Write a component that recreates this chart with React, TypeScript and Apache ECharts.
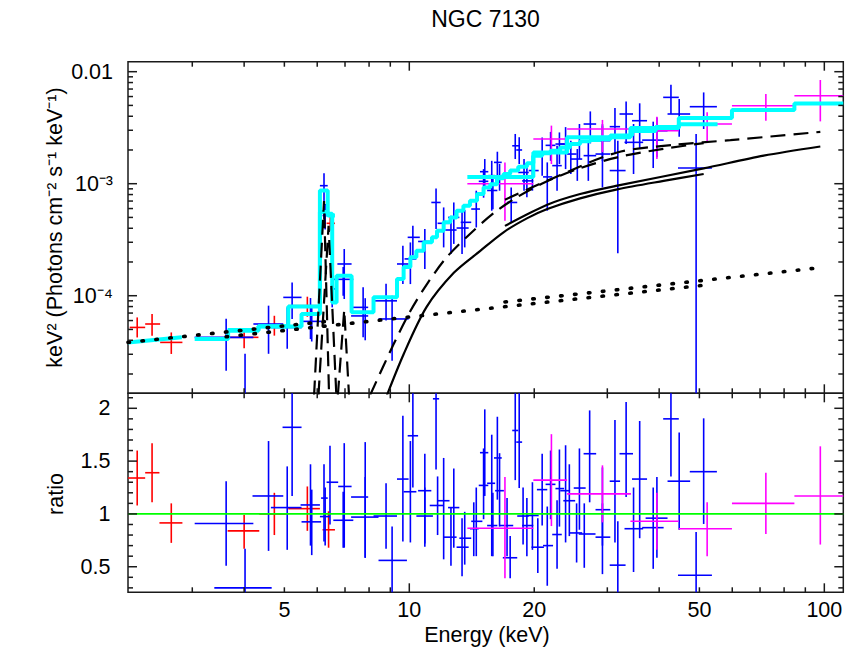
import React, { useEffect, useRef } from "react";
import * as echarts from "echarts";

const FONT = '"Liberation Sans", Arial, Helvetica, sans-serif';

// ---------- axis ranges and ticks ----------
const energyRange = [2.1, 111.1];
const fluxRange = [1.345e-5, 0.01228];
const ratioRange = [0.258, 2.142];

const energyMajorTicks = [10, 100];
const energyMinorTicks = [3, 4, 5, 6, 7, 8, 9, 20, 30, 40, 50, 60, 70, 80, 90];
const energyTickLabels = [5, 10, 20, 50, 100];
const fluxMajorTicks = [1e-4, 1e-3, 1e-2];
const fluxMinorTicks = [
  2e-5, 3e-5, 4e-5, 5e-5, 6e-5, 7e-5, 8e-5, 9e-5,
  2e-4, 3e-4, 4e-4, 5e-4, 6e-4, 7e-4, 8e-4, 9e-4,
  2e-3, 3e-3, 4e-3, 5e-3, 6e-3, 7e-3, 8e-3, 9e-3,
];
const fluxTickValues = [1e-2, 1e-3, 1e-4];
const fluxTickTexts = ["0.01", "10⁻³", "10⁻⁴"];
const ratioMajorTicks = [0.5, 1, 1.5, 2];
const ratioMinorTicks = [0.3, 0.4, 0.6, 0.7, 0.8, 0.9, 1.1, 1.2, 1.3, 1.4, 1.6, 1.7, 1.8, 1.9, 2.1];
const ratioTickValues = [0.5, 1, 1.5, 2];
const ratioTickTexts = ["0.5", "1", "1.5", "2"];

// ---------- spectra: [E, Elo, Ehi, value, lo, hi] ----------
const xmmSpec = [
  [2.21, 2.12, 2.31, 5.21e-5, 4.24e-5, 6.4e-5],
  [2.4, 2.31, 2.51, 5.59e-5, 4.4e-5, 6.87e-5],
  [2.67, 2.51, 2.84, 3.83e-5, 3.02e-5, 4.7e-5],
  [4.0, 3.65, 4.33, 4.25e-5, 3.4e-5, 5.0e-5],
  [4.73, 4.33, 5.11, 5.4e-5, 4.4e-5, 6.62e-5],
  [5.68, 5.11, 6.09, 8.15e-5, 6.49e-5, 9.8e-5],
  [6.45, 6.32, 6.62, 4.43e-4, 3.8e-4, 5.4e-4],
];

const nustarSpec = [
  [3.62, 3.04, 4.21, 4.25e-5, 2.14e-5, 6.24e-5],
  [4.02, 3.39, 4.66, 1.25e-5, 5.0e-6, 3.04e-5],
  [4.58, 4.21, 4.97, 5.59e-5, 3.03e-5, 8.15e-5],
  [5.08, 4.64, 5.5, 5.2e-5, 3.36e-5, 7.87e-5],
  [5.22, 4.97, 5.5, 9.66e-5, 6.19e-5, 1.31e-4],
  [5.78, 5.47, 6.09, 6.87e-5, 4.1e-5, 9.53e-5],
  [5.82, 5.5, 6.13, 5.9e-5, 3.9e-5, 8.2e-5],
  [6.23, 6.09, 6.36, 9.6e-4, 4.84e-4, 1.24e-3],
  [6.27, 6.18, 6.36, 5.2e-4, 3.9e-4, 6.6e-4],
  [6.52, 6.44, 6.71, 1.15e-4, 7.87e-5, 1.42e-4],
  [6.97, 6.71, 7.26, 1.92e-4, 9.35e-5, 2.61e-4],
  [6.93, 6.56, 7.33, 1.4e-4, 1.0e-4, 1.8e-4],
  [7.74, 7.28, 7.96, 7.87e-5, 4.25e-5, 1.19e-4],
  [7.83, 7.24, 7.96, 6.6e-5, 4.0e-5, 9.5e-5],
  [8.79, 8.2, 9.34, 9.0e-5, 6.0e-5, 1.28e-4],
  [9.09, 8.43, 9.96, 6.2e-5, 2.63e-5, 1.0e-4],
  [9.65, 9.34, 9.96, 1.92e-4, 1.27e-4, 2.79e-4],
  [10.06, 9.74, 10.4, 2.13e-4, 1.27e-4, 2.99e-4],
  [10.2, 9.91, 10.6, 3.32e-4, 2.28e-4, 4.22e-4],
  [10.9, 10.5, 11.2, 3.05e-4, 1.73e-4, 3.94e-4],
  [11.6, 11.3, 11.9, 6.8e-4, 3.94e-4, 9.08e-4],
  [12.1, 11.7, 12.5, 4.43e-4, 2.7e-4, 6.14e-4],
  [12.6, 12.2, 13.0, 3.86e-4, 2.36e-4, 5.18e-4],
  [12.8, 12.4, 13.2, 5.0e-4, 2.9e-4, 6.8e-4],
  [13.4, 13.0, 13.9, 4.02e-4, 2.36e-4, 5.74e-4],
  [13.6, 13.3, 14.1, 4.52e-4, 2.7e-4, 5.82e-4],
  [14.5, 14.1, 14.8, 5.94e-4, 4.07e-4, 8.66e-4],
  [15.2, 14.8, 15.5, 1.28e-3, 9.27e-4, 1.66e-3],
  [15.1, 14.7, 15.5, 1.05e-3, 7.5e-4, 1.35e-3],
  [15.8, 15.5, 16.1, 1.18e-3, 5.74e-4, 1.6e-3],
  [15.9, 15.4, 16.3, 8.7e-4, 5.9e-4, 1.15e-3],
  [16.3, 16.0, 16.7, 1.55e-3, 1.1e-3, 1.93e-3],
  [16.5, 16.1, 16.9, 1.15e-3, 8.66e-4, 1.5e-3],
  [17.6, 17.2, 18.2, 6.8e-4, 4.52e-4, 9.27e-4],
  [18.0, 17.7, 18.4, 2.18e-3, 1.66e-3, 2.78e-3],
  [18.4, 18.1, 18.7, 2.0e-3, 1.5e-3, 2.6e-3],
  [18.9, 18.3, 19.4, 1.26e-3, 8.66e-4, 1.66e-3],
  [19.2, 18.7, 19.9, 1.06e-3, 7.55e-4, 1.45e-3],
  [19.8, 19.4, 20.5, 1.31e-3, 8.66e-4, 1.78e-3],
  [20.9, 20.3, 21.5, 1.87e-3, 1.18e-3, 2.59e-3],
  [21.5, 21.0, 22.1, 1.15e-3, 5.74e-4, 1.55e-3],
  [21.9, 21.3, 22.5, 2.2e-3, 1.6e-3, 2.9e-3],
  [22.7, 22.1, 23.3, 1.45e-3, 8.66e-4, 2.18e-3],
  [23.0, 22.5, 23.6, 2.26e-3, 1.5e-3, 2.87e-3],
  [23.8, 23.1, 24.4, 2.26e-3, 1.35e-3, 3.2e-3],
  [24.5, 24.0, 25.3, 1.84e-3, 1.22e-3, 2.42e-3],
  [25.7, 24.9, 26.6, 2.59e-3, 1.66e-3, 3.41e-3],
  [25.4, 24.4, 26.1, 1.66e-3, 1.06e-3, 2.04e-3],
  [27.3, 26.3, 28.2, 3.41e-3, 2.29e-3, 4.42e-3],
  [27.0, 26.3, 28.2, 1.78e-3, 1.06e-3, 2.42e-3],
  [29.2, 28.1, 30.5, 1.84e-3, 9.27e-4, 3.41e-3],
  [29.2, 28.1, 30.5, 2.42e-3, 1.6e-3, 3.3e-3],
  [31.3, 30.4, 32.2, 3.23e-3, 1.84e-3, 4.74e-3],
  [31.8, 30.4, 33.2, 1.31e-3, 2.39e-4, 2.42e-3],
  [33.3, 32.1, 34.6, 4.19e-3, 2.26e-3, 5.43e-3],
  [34.7, 33.0, 36.6, 2.34e-3, 1.22e-3, 3.41e-3],
  [35.9, 34.4, 37.4, 3.65e-3, 2.08e-3, 5.22e-3],
  [38.7, 36.4, 41.0, 2.45e-3, 1.38e-3, 3.58e-3],
  [39.5, 37.1, 41.9, 2.97e-3, 1.72e-3, 3.9e-3],
  [42.7, 40.9, 44.6, 5.9e-3, 4.19e-3, 7.66e-3],
  [44.7, 41.9, 47.5, 4.19e-3, 2.63e-3, 5.7e-3],
  [51.2, 47.4, 55.1, 4.87e-3, 3.08e-3, 6.53e-3],
  [49.1, 44.4, 53.6, 1.38e-3, 1.0e-6, 2.78e-3],
];

const batSpec = [
  [17.0, 13.8, 19.9, 1.0e-3, 4.67e-4, 1.55e-3],
  [22.0, 19.9, 24.0, 2.51e-3, 1.5e-3, 3.3e-3],
  [29.2, 24.0, 34.2, 3.08e-3, 1.91e-3, 3.71e-3],
  [39.5, 34.1, 44.6, 2.97e-3, 1.66e-3, 3.96e-3],
  [52.2, 44.6, 59.9, 3.41e-3, 2.39e-3, 4.34e-3],
  [72.3, 59.9, 84.7, 4.97e-3, 3.65e-3, 6.33e-3],
  [97.8, 84.7, 111.1, 6.1e-3, 3.6e-3, 8.43e-3],
];

// ---------- ratios: [E, Elo, Ehi, ratio, lo, hi] ----------
const xmmRatio = [
  [2.21, 2.1, 2.31, 1.34, 1.08, 1.6],
  [2.4, 2.31, 2.5, 1.39, 1.11, 1.67],
  [2.67, 2.5, 2.84, 0.915, 0.726, 1.1],
  [4.0, 3.65, 4.35, 0.84, 0.67, 0.99],
  [4.73, 4.35, 5.11, 1.0, 0.8, 1.2],
  [5.68, 5.11, 6.09, 1.05, 0.84, 1.26],
  [6.39, 6.18, 6.62, 0.85, 0.68, 1.025],
];

const nustarRatio = [
  [3.62, 3.04, 4.21, 0.91, 0.51, 1.31],
  [4.02, 3.39, 4.66, 0.3, 0.2, 0.67],
  [4.58, 4.19, 4.97, 1.17, 0.65, 1.69],
  [5.08, 4.64, 5.5, 1.06, 0.66, 1.45],
  [5.22, 4.95, 5.5, 1.82, 1.17, 2.3],
  [5.78, 5.47, 6.09, 1.085, 0.7, 1.47],
  [5.82, 5.5, 6.13, 0.925, 0.61, 1.23],
  [6.23, 6.13, 6.36, 1.15, 0.74, 1.47],
  [6.27, 6.09, 6.44, 0.975, 0.7, 1.25],
  [6.44, 6.32, 6.74, 1.3, 0.9, 1.645],
  [6.97, 6.74, 7.26, 1.26, 0.68, 1.67],
  [6.93, 6.56, 7.33, 0.94, 0.68, 1.21],
  [7.83, 7.24, 7.96, 1.16, 0.585, 1.68],
  [7.83, 7.24, 8.43, 0.97, 0.585, 1.35],
  [8.79, 8.2, 9.34, 0.98, 0.67, 1.29],
  [9.09, 8.43, 9.87, 0.56, 0.25, 0.88],
  [9.65, 9.34, 9.96, 1.33, 0.74, 1.93],
  [10.06, 9.69, 10.4, 1.21, 0.73, 1.69],
  [10.2, 9.91, 10.5, 1.74, 1.25, 2.3],
  [10.9, 10.5, 11.3, 1.22, 0.69, 1.57],
  [10.9, 10.4, 11.4, 0.98, 0.72, 1.25],
  [11.6, 11.4, 11.8, 2.09, 1.42, 2.6],
  [11.7, 11.2, 12.1, 1.08, 0.8, 1.355],
  [12.1, 11.7, 12.5, 1.125, 0.57, 1.53],
  [12.8, 12.4, 13.2, 1.06, 0.68, 1.43],
  [12.6, 12.1, 13.0, 0.78, 0.51, 1.06],
  [13.4, 13.0, 13.9, 0.685, 0.41, 0.96],
  [13.6, 13.2, 14.1, 0.77, 0.52, 1.02],
  [14.5, 14.1, 15.0, 0.93, 0.6, 1.25],
  [14.3, 14.0, 14.7, 0.86, 0.6, 1.11],
  [15.2, 14.8, 15.5, 1.58, 1.17, 1.99],
  [15.1, 14.7, 15.5, 1.27, 0.95, 1.62],
  [15.8, 15.4, 16.1, 1.29, 0.6, 1.75],
  [15.9, 15.4, 16.3, 0.89, 0.6, 1.2],
  [16.3, 16.0, 16.7, 1.53, 1.135, 1.92],
  [16.5, 16.1, 16.9, 1.22, 0.88, 1.575],
  [17.2, 16.5, 17.8, 0.89, 0.6, 1.15],
  [17.5, 16.8, 18.2, 0.585, 0.39, 0.79],
  [18.0, 17.7, 18.3, 1.79, 1.32, 2.3],
  [18.4, 18.1, 18.7, 1.68, 1.245, 2.3],
  [18.8, 18.2, 19.4, 0.98, 0.71, 1.25],
  [19.2, 18.7, 19.9, 0.89, 0.6, 1.15],
  [19.8, 19.2, 20.5, 0.985, 0.66, 1.3],
  [20.4, 19.7, 21.1, 0.685, 0.44, 0.96],
  [20.9, 20.3, 21.5, 1.23, 0.89, 1.57],
  [21.5, 21.0, 22.2, 0.7, 0.32, 1.07],
  [21.9, 21.3, 22.5, 1.28, 0.95, 1.6],
  [22.7, 22.1, 23.3, 0.805, 0.48, 1.13],
  [23.0, 22.5, 23.6, 1.24, 0.88, 1.61],
  [23.8, 23.1, 24.4, 1.22, 0.73, 1.65],
  [24.3, 23.5, 25.1, 1.125, 0.79, 1.47],
  [25.7, 24.9, 26.6, 1.245, 0.85, 1.62],
  [25.3, 24.3, 26.1, 0.82, 0.54, 1.1],
  [26.4, 25.6, 28.1, 0.81, 0.49, 1.1],
  [27.2, 26.3, 28.2, 1.57, 1.11, 1.98],
  [29.2, 28.1, 30.5, 1.04, 0.7, 1.44],
  [29.2, 28.1, 30.5, 0.78, 0.43, 1.1],
  [31.8, 30.4, 33.2, 0.515, 0.25, 0.93],
  [31.3, 30.4, 32.2, 1.31, 0.73, 1.89],
  [33.3, 32.1, 34.6, 1.57, 1.16, 2.06],
  [34.7, 33.0, 36.6, 0.86, 0.45, 1.25],
  [35.9, 34.4, 37.4, 1.33, 0.77, 1.88],
  [38.7, 36.4, 41.0, 0.87, 0.48, 1.25],
  [39.5, 37.1, 41.9, 0.96, 0.585, 1.35],
  [42.7, 40.9, 44.6, 1.9, 1.355, 2.3],
  [44.7, 41.9, 47.5, 1.31, 0.85, 1.77],
  [51.2, 47.4, 55.1, 1.4, 0.905, 1.905],
  [49.1, 44.4, 53.6, 0.42, 0.2, 0.83],
];

const batRatio = [
  [17.0, 13.8, 19.9, 0.865, 0.39, 1.35],
  [22.0, 19.9, 24.0, 1.32, 0.885, 1.755],
  [29.2, 24.0, 34.2, 1.19, 0.92, 1.46],
  [39.5, 34.1, 44.6, 0.93, 0.66, 1.2],
  [52.2, 44.6, 59.9, 0.86, 0.6, 1.11],
  [72.3, 59.9, 84.7, 1.1, 0.81, 1.39],
  [97.8, 84.7, 111.1, 1.17, 0.71, 1.64],
];

// ---------- model curves ----------
const xmmModelCurve = [[2.1, 3.83e-5], [2.83, 4.25e-5]];
// [Elo, Ehi, value]
const xmmModelBins = [
  [3.65, 4.33, 4.95e-5], [4.33, 5.11, 5.35e-5], [5.11, 6.09, 8.0e-5],
  [6.09, 6.36, 5.6e-4], [6.36, 6.62, 5.2e-4],
];
const nustarModelBins = [
  [3.04, 3.66, 4.1e-5], [3.66, 4.33, 4.87e-5], [4.33, 5.5, 5.3e-5], [5.5, 6.09, 6.87e-5],
  [6.09, 6.36, 8.7e-4], [6.36, 6.52, 5.4e-4], [6.52, 6.68, 8.7e-5], [6.68, 7.26, 1.51e-4],
  [7.26, 8.2, 7.1e-5], [8.2, 9.34, 9.7e-5], [9.34, 9.69, 1.41e-4], [9.69, 10.06, 1.8e-4],
  [10.06, 10.4, 2.2e-4], [10.4, 10.83, 2.52e-4], [10.83, 11.34, 3.0e-4], [11.34, 11.66, 3.32e-4],
  [11.66, 12.1, 3.8e-4], [12.1, 12.56, 4.52e-4], [12.56, 13.0, 5.0e-4], [13.0, 13.5, 5.74e-4],
  [13.5, 14.0, 6.36e-4], [14.0, 14.56, 7.05e-4], [14.56, 15.1, 8.1e-4], [15.1, 15.67, 9.27e-4],
  [15.67, 16.27, 9.9e-4], [16.27, 16.87, 1.12e-3], [16.87, 17.5, 1.22e-3], [17.5, 18.3, 1.31e-3],
  [18.3, 19.2, 1.42e-3], [19.2, 19.9, 1.52e-3], [19.9, 20.9, 1.78e-3], [20.9, 21.9, 1.87e-3],
  [21.9, 23.1, 1.97e-3], [23.1, 24.4, 2.11e-3], [24.4, 25.8, 2.26e-3], [25.8, 27.3, 2.39e-3],
  [27.3, 28.8, 2.45e-3], [28.8, 30.5, 2.5e-3], [30.5, 34.4, 2.7e-3], [34.4, 39.2, 2.95e-3],
  [39.2, 44.6, 3.2e-3], [44.6, 55.3, 3.4e-3],
];
const batModelBins = [
  [13.8, 19.9, 1.15e-3], [19.9, 24.0, 1.9e-3], [24.0, 34.1, 2.6e-3], [34.1, 44.6, 3.15e-3],
  [44.6, 59.9, 3.86e-3], [59.9, 84.7, 4.55e-3], [84.7, 111.1, 5.2e-3],
];

const powerlawXmm = [[2.1, 3.83e-5], [6.45, 5.95e-5]];
const powerlawNustar = [[3.62, 4.3e-5], [51.2, 1.24e-4]];
const powerlawBat = [[17.0, 8.8e-5], [97.8, 1.78e-4]];

const transmittedNustar = [
  [8.6, 1.0e-5], [9.69, 3.0e-5], [11.0, 7.9e-5], [12.8, 1.6e-4], [14.8, 2.5e-4], [16.9, 3.7e-4],
  [19.2, 4.9e-4], [21.5, 5.94e-4], [25.8, 7.4e-4], [31.7, 8.9e-4], [41.0, 1.06e-3], [51.2, 1.22e-3],
];
const transmittedBat = [
  [17.0, 4.2e-4], [21.5, 6.49e-4], [25.8, 8.09e-4], [31.7, 9.6e-4], [51.2, 1.37e-3],
  [71.4, 1.78e-3], [97.8, 2.15e-3],
];

const reflectionNustar = [
  [8.05, 1.3e-5], [9.17, 3.7e-5], [10.06, 7.3e-5], [11.03, 1.27e-4], [12.3, 2.2e-4], [14.0, 3.56e-4],
  [16.0, 5.5e-4], [18.2, 7.6e-4], [21.1, 1.02e-3], [25.4, 1.35e-3], [31.7, 1.72e-3], [41.0, 2.05e-3],
  [51.2, 2.3e-3],
];
const reflectionBat = [
  [17.0, 7.2e-4], [22.2, 1.12e-3], [31.7, 1.9e-3], [43.4, 2.22e-3], [59.4, 2.45e-3], [97.8, 2.9e-3],
];

const feKalphaNustar = [[5.82, 5e-6], [6.23, 7.0e-4], [6.45, 5e-6]];
const feKalphaXmm = [[5.95, 5e-6], [6.39, 4.2e-4], [6.75, 5e-6]];
const feKbetaNustar = [[6.6, 5e-6], [6.97, 7.5e-5], [7.26, 5e-6]];

const ratioUnity = [[2.1, 1], [111.1, 1]];

// ---------- helpers ----------
function stepPoints(bins: number[][]) {
  const pts: number[][] = [];
  bins.forEach(([lo, hi, v]) => {
    pts.push([lo, v]);
    pts.push([hi, v]);
  });
  return pts;
}

function crossSeries(data: number[][], color: string, gi: number) {
  return {
    type: "custom",
    xAxisIndex: gi,
    yAxisIndex: gi,
    silent: true,
    encode: { x: 0, y: 3 },
    data,
    renderItem: (params: any, api: any) => {
      const cs = params.coordSys;
      const x0 = cs.x, x1 = cs.x + cs.width, y0 = cs.y, y1 = cs.y + cs.height;
      const e = api.value(0), elo = api.value(1), ehi = api.value(2);
      const v = api.value(3), vlo = api.value(4), vhi = api.value(5);
      const c = api.coord([e, v]);
      const l = api.coord([elo, v]);
      const h = api.coord([ehi, v]);
      const b = api.coord([e, vlo]);
      const t = api.coord([e, vhi]);
      const cx = (x: number) => Math.max(x0, Math.min(x1, x));
      const cy = (y: number) => Math.max(y0, Math.min(y1, y));
      const style = { stroke: color, lineWidth: 1.6 };
      const children: any[] = [];
      if (c[1] >= y0 && c[1] <= y1) {
        children.push({ type: "line", shape: { x1: cx(l[0]), y1: c[1], x2: cx(h[0]), y2: c[1] }, style });
      }
      const ya = cy(t[1]), yb = cy(b[1]);
      if (yb > ya && c[0] >= x0 && c[0] <= x1) {
        children.push({ type: "line", shape: { x1: c[0], y1: ya, x2: c[0], y2: yb }, style });
      }
      return { type: "group", children };
    },
  };
}

function lineSeries(data: number[][], gi: number, lineStyle: any, smooth = false) {
  return {
    type: "line",
    xAxisIndex: gi,
    yAxisIndex: gi,
    data,
    symbol: "none",
    showSymbol: false,
    silent: true,
    clip: true,
    smooth: smooth ? 0.3 : false,
    lineStyle,
  };
}

const TICK_STYLE = { stroke: "#1a1a1a", lineWidth: 1.5 };

function xTickSeries(values: number[], gi: number, yRef: number, len: number) {
  return {
    type: "custom",
    xAxisIndex: gi,
    yAxisIndex: gi,
    silent: true,
    z: 10,
    data: values.map((v) => [v, yRef]),
    renderItem: (params: any, api: any) => {
      const cs = params.coordSys;
      const x = api.coord([api.value(0), api.value(1)])[0];
      return {
        type: "group",
        children: [
          { type: "line", shape: { x1: x, y1: cs.y, x2: x, y2: cs.y + len }, style: TICK_STYLE },
          { type: "line", shape: { x1: x, y1: cs.y + cs.height, x2: x, y2: cs.y + cs.height - len }, style: TICK_STYLE },
        ],
      };
    },
  };
}

function yTickSeries(values: number[], gi: number, xRef: number, len: number) {
  return {
    type: "custom",
    xAxisIndex: gi,
    yAxisIndex: gi,
    silent: true,
    z: 10,
    data: values.map((v) => [xRef, v]),
    renderItem: (params: any, api: any) => {
      const cs = params.coordSys;
      const y = api.coord([api.value(0), api.value(1)])[1];
      return {
        type: "group",
        children: [
          { type: "line", shape: { x1: cs.x, y1: y, x2: cs.x + len, y2: y }, style: TICK_STYLE },
          { type: "line", shape: { x1: cs.x + cs.width, y1: y, x2: cs.x + cs.width - len, y2: y }, style: TICK_STYLE },
        ],
      };
    },
  };
}

function textStyle(text: string, align: string, size: number) {
  return {
    text,
    fill: "#000",
    font: `${size}px ${FONT}`,
    textAlign: align,
    align,
    textVerticalAlign: "middle",
    verticalAlign: "middle",
  };
}

function xLabelSeries(values: number[], gi: number, yRef: number) {
  return {
    type: "custom",
    xAxisIndex: gi,
    yAxisIndex: gi,
    silent: true,
    z: 10,
    data: values.map((v) => [v, yRef]),
    renderItem: (params: any, api: any) => {
      const cs = params.coordSys;
      const x = api.coord([api.value(0), api.value(1)])[0];
      return { type: "text", x, y: cs.y + cs.height + 18, style: textStyle(String(values[params.dataIndex]), "center", 21.5) };
    },
  };
}

function yLabelSeries(values: number[], texts: string[], gi: number, xRef: number, offset: number) {
  return {
    type: "custom",
    xAxisIndex: gi,
    yAxisIndex: gi,
    silent: true,
    z: 10,
    data: values.map((v) => [xRef, v]),
    renderItem: (params: any, api: any) => {
      const cs = params.coordSys;
      const y = api.coord([api.value(0), api.value(1)])[1];
      return { type: "text", x: cs.x - offset, y, style: textStyle(texts[params.dataIndex], "right", 21.5) };
    },
  };
}

const hiddenAxis = {
  axisLine: { show: false },
  axisTick: { show: false },
  axisLabel: { show: false },
  splitLine: { show: false },
};

const CYAN = { color: "#00ffff", width: 4 };
const SOLID = { color: "#000", width: 2.2 };
const DASHED = { color: "#000", width: 2.2, type: [15, 8] };
const DOTTED = { color: "#000", width: 3.6, type: [1.5, 12.5], cap: "round" };

function buildOption() {
  return {
    animation: false,
    backgroundColor: "#fff",
    grid: [
      { left: 128, top: 61.7, width: 715.3, height: 331.6, show: true, borderColor: "#1a1a1a", borderWidth: 1.5, backgroundColor: "transparent" },
      { left: 128, top: 393.3, width: 715.3, height: 199, show: true, borderColor: "#1a1a1a", borderWidth: 1.5, backgroundColor: "transparent" },
    ],
    xAxis: [
      { gridIndex: 0, type: "log", logBase: 10, min: energyRange[0], max: energyRange[1], ...hiddenAxis },
      { gridIndex: 1, type: "log", logBase: 10, min: energyRange[0], max: energyRange[1], ...hiddenAxis },
    ],
    yAxis: [
      { gridIndex: 0, type: "log", logBase: 10, min: fluxRange[0], max: fluxRange[1], ...hiddenAxis },
      { gridIndex: 1, type: "value", min: ratioRange[0], max: ratioRange[1], ...hiddenAxis },
    ],
    graphic: [
      { type: "text", x: 485.5, y: 19, style: textStyle("NGC 7130", "center", 23) },
      { type: "text", x: 55, y: 227.5, rotation: Math.PI / 2, style: textStyle("keV² (Photons cm⁻² s⁻¹ keV⁻¹)", "center", 21.5) },
      { type: "text", x: 56, y: 494, rotation: Math.PI / 2, style: textStyle("ratio", "center", 21.5) },
      { type: "text", x: 487, y: 635, style: textStyle("Energy (keV)", "center", 21.5) },
    ],
    series: [
      // top panel data
      crossSeries(xmmSpec, "#ff0000", 0),
      crossSeries(nustarSpec, "#0000ff", 0),
      crossSeries(batSpec, "#ff00ff", 0),
      // total models
      lineSeries(xmmModelCurve, 0, CYAN),
      lineSeries(stepPoints(xmmModelBins), 0, CYAN),
      lineSeries(stepPoints(nustarModelBins), 0, CYAN),
      lineSeries(stepPoints(batModelBins), 0, CYAN),
      // components
      lineSeries(powerlawXmm, 0, DOTTED),
      lineSeries(powerlawNustar, 0, DOTTED),
      lineSeries(powerlawBat, 0, DOTTED),
      lineSeries(transmittedNustar, 0, SOLID, true),
      lineSeries(transmittedBat, 0, SOLID, true),
      lineSeries(reflectionNustar, 0, DASHED, true),
      lineSeries(reflectionBat, 0, DASHED, true),
      lineSeries(feKalphaNustar, 0, DASHED),
      lineSeries(feKalphaXmm, 0, DASHED),
      lineSeries(feKbetaNustar, 0, DASHED),
      // ratio panel
      crossSeries(xmmRatio, "#ff0000", 1),
      crossSeries(nustarRatio, "#0000ff", 1),
      crossSeries(batRatio, "#ff00ff", 1),
      lineSeries(ratioUnity, 1, { color: "#00ff00", width: 1.8 }),
      // ticks and labels
      xTickSeries(energyMajorTicks, 0, 1e-3, 9),
      xTickSeries(energyMinorTicks, 0, 1e-3, 5),
      xTickSeries(energyMajorTicks, 1, 1, 9),
      xTickSeries(energyMinorTicks, 1, 1, 5),
      yTickSeries(fluxMajorTicks, 0, 10, 9),
      yTickSeries(fluxMinorTicks, 0, 10, 5),
      yTickSeries(ratioMajorTicks, 1, 10, 9),
      yTickSeries(ratioMinorTicks, 1, 10, 5),
      xLabelSeries(energyTickLabels, 1, 1),
      yLabelSeries(fluxTickValues, fluxTickTexts, 0, 10, 15),
      yLabelSeries(ratioTickValues, ratioTickTexts, 1, 10, 17.5),
    ],
  };
}

export default function App() {
  const ref = useRef<HTMLDivElement>(null);
  useEffect(() => {
    const chart = echarts.init(ref.current as HTMLDivElement, null, { renderer: "svg" });
    chart.setOption(buildOption() as any);
    return () => chart.dispose();
  }, []);
  return (
    <div
      ref={ref}
      style={{ position: "fixed", left: 0, top: 0, width: 858, height: 648, background: "#fff" }}
    />
  );
}
